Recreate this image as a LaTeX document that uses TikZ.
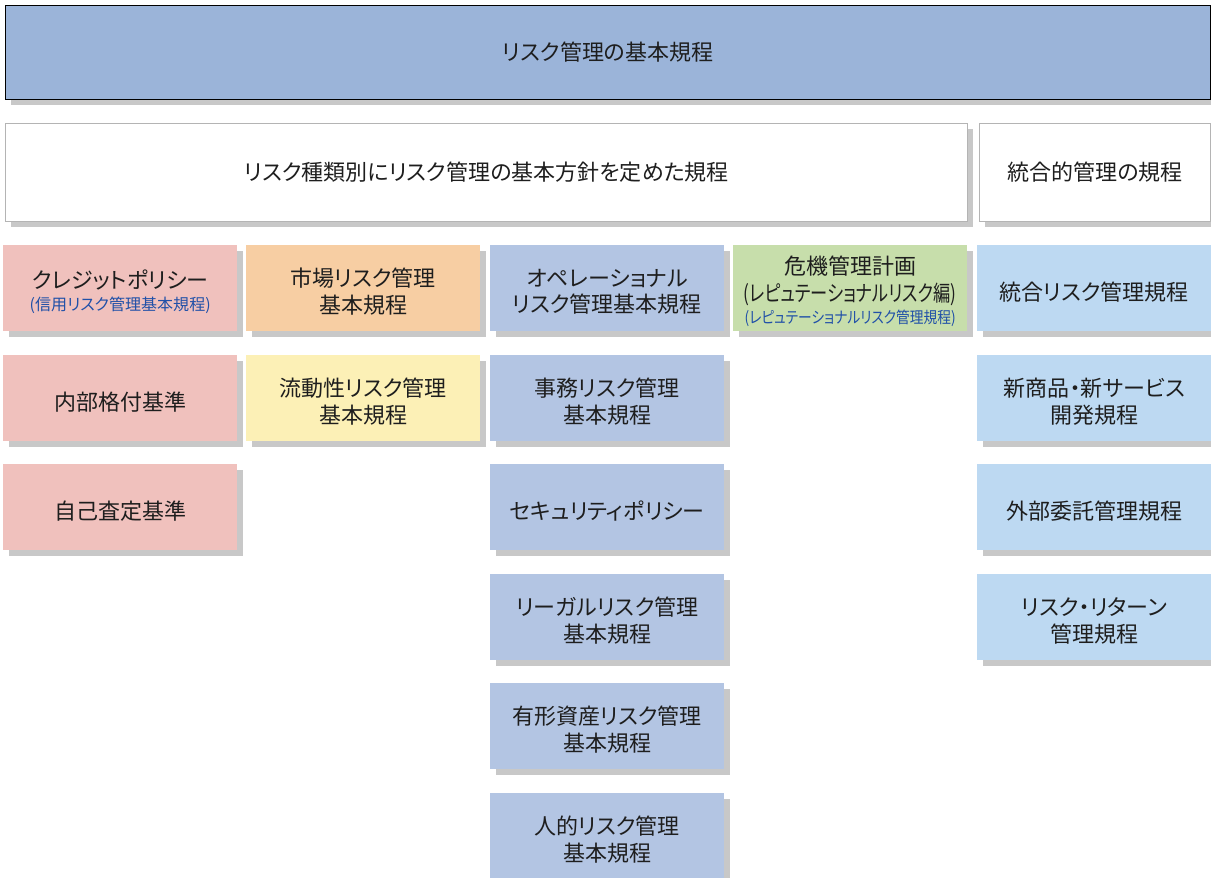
\documentclass[tikz,border=0pt]{standalone}
\usepackage{graphicx}
\usepackage{fontspec}
\setmainfont{Noto Sans CJK JP}[RawFeature={+palt}]
\usetikzlibrary{shadows}
\definecolor{hdr}{HTML}{9BB4D9}
\definecolor{pinkc}{HTML}{F0C1BD}
\definecolor{orangec}{HTML}{F7CEA3}
\definecolor{yellowc}{HTML}{FCF0B6}
\definecolor{bluegc}{HTML}{B3C5E3}
\definecolor{greenc}{HTML}{C7DEAB}
\definecolor{lbluec}{HTML}{BDD9F2}
\definecolor{shadowc}{HTML}{C8C8C8}
\definecolor{txt}{HTML}{1E1E1E}
\definecolor{subblue}{HTML}{2050A8}
\definecolor{wborder}{HTML}{B4B4B4}
\newcommand{\mainf}{\fontsize{22}{26.5}\selectfont}
\newcommand{\subf}[2]{{\fontsize{16}{19}\selectfont\color{subblue}\resizebox{#1}{\height}{#2}}}
\newcommand{\cellnode}[5]{%
  \node[cell, fill=#4] (#1) at (#2,#3) {};
  \node[celltext] (#1t) at ([yshift=-3.5pt]#1.center) {#5};}
\begin{document}
\begin{tikzpicture}[x=1pt,y=-1pt,
  sh/.style={general shadow={fill=shadowc, shadow xshift=6pt, shadow yshift=-6pt}},
  cell/.style={sh, anchor=north west, minimum width=234pt, minimum height=86pt, inner sep=0pt},
  celltext/.style={inner sep=0pt, align=center, font=\mainf, text=txt},
  hbox/.style={sh, anchor=north west, inner sep=0pt, align=center, font=\mainf, text=txt, line width=0.9pt}]
\useasboundingbox (0,0) rectangle (1211,878);
\fill[white] (0,0) rectangle (1211,878);
% header
\node[hbox, draw=black, fill=hdr, minimum width=1205pt, minimum height=94pt] (hd) at (5,5) {リスク管理の基本規程};
% white boxes
\node[hbox, draw=wborder, fill=white, minimum width=962pt, minimum height=98pt] (w1) at (5,123) {リスク種類別にリスク管理の基本方針を定めた規程};
\node[hbox, draw=wborder, fill=white, minimum width=231pt, minimum height=98pt] (w2) at (979,123) {統合的管理の規程};
% column 1
\cellnode{c1r1}{3}{245}{pinkc}{クレジットポリシー\\[-4pt]\subf{181pt}{(信用リスク管理基本規程)}}
\cellnode{c1r2}{3}{355}{pinkc}{内部格付基準}
\cellnode{c1r3}{3}{464}{pinkc}{自己査定基準}
% column 2
\cellnode{c2r1}{246}{245}{orangec}{市場リスク管理\\基本規程}
\cellnode{c2r2}{246}{355}{yellowc}{流動性リスク管理\\基本規程}
% column 3
\cellnode{c3r1}{490}{245}{bluegc}{オペレーショナル\\リスク管理基本規程}
\cellnode{c3r2}{490}{355}{bluegc}{事務リスク管理\\基本規程}
\cellnode{c3r3}{490}{464}{bluegc}{セキュリティポリシー}
\cellnode{c3r4}{490}{574}{bluegc}{リーガルリスク管理\\基本規程}
\cellnode{c3r5}{490}{683}{bluegc}{有形資産リスク管理\\基本規程}
\cellnode{c3r6}{490}{793}{bluegc}{人的リスク管理\\基本規程}
% column 4
\cellnode{c4r1}{733}{245}{greenc}{危機管理計画\\\resizebox{213pt}{\height}{(レピュテーショナルリスク編)}\\[-4pt]\subf{211pt}{(レピュテーショナルリスク管理規程)}}
% column 5
\cellnode{c5r1}{977}{245}{lbluec}{統合リスク管理規程}
\cellnode{c5r2}{977}{355}{lbluec}{新商品・新サービス\\開発規程}
\cellnode{c5r3}{977}{464}{lbluec}{外部委託管理規程}
\cellnode{c5r4}{977}{574}{lbluec}{リスク・リターン\\管理規程}
\end{tikzpicture}
\end{document}
